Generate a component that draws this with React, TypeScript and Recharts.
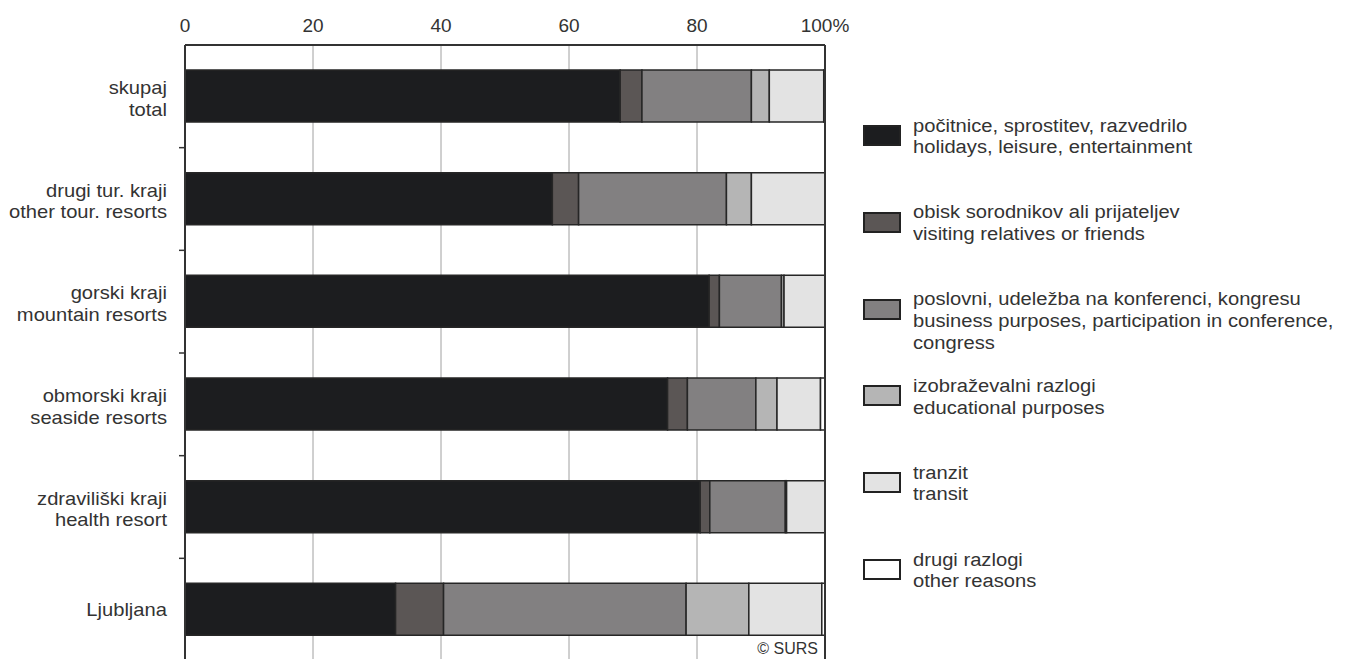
import React from "react";
import { Bar, BarChart, CartesianGrid, Legend, ReferenceLine, XAxis, YAxis } from "recharts";

// categories (top to bottom)
const categoryKeys = ["skupaj", "drugi", "gorski", "obmorski", "zdravilisce", "ljubljana"];
const labelsSl = ["skupaj", "drugi tur. kraji", "gorski kraji", "obmorski kraji", "zdraviliški kraji", "Ljubljana"];
const labelsEn = ["total", "other tour. resorts", "mountain resorts", "seaside resorts", "health resort", ""];

// shares in %
const holidays = [68.0, 57.4, 81.9, 75.4, 80.5, 32.9];
const visiting = [3.4, 4.1, 1.6, 3.1, 1.5, 7.5];
const business = [17.1, 23.1, 9.7, 10.7, 11.8, 37.9];
const educational = [2.8, 3.9, 0.4, 3.3, 0.2, 9.8];
const transit = [8.5, 11.5, 6.4, 6.8, 6.0, 11.4];
const other = [0.2, 0, 0, 0.7, 0, 0.5];

const xTicks = [0, 20, 40, 60, 80, 100];

const seriesKeys = ["holidays", "visiting", "business", "educational", "transit", "other"];
const seriesColors = ["#1c1d1f", "#5b5655", "#828081", "#b5b5b5", "#e3e3e3", "#ffffff"];
const seriesLabels = [
  ["počitnice, sprostitev, razvedrilo", "holidays, leisure, entertainment"],
  ["obisk sorodnikov ali prijateljev", "visiting relatives or friends"],
  ["poslovni, udeležba na konferenci, kongresu", "business purposes, participation in conference,", "congress"],
  ["izobraževalni razlogi", "educational purposes"],
  ["tranzit", "transit"],
  ["drugi razlogi", "other reasons"],
];

const data = categoryKeys.map((key, i) => ({
  key,
  holidays: holidays[i],
  visiting: visiting[i],
  business: business[i],
  educational: educational[i],
  transit: transit[i],
  other: other[i],
}));

const FONT = '"Liberation Sans", Arial, Helvetica, sans-serif';
const TEXT = "#333";
const STRETCH = 1.12;

function CategoryTick(props: any) {
  const { x, y, payload, index } = props;
  const i = categoryKeys.indexOf(payload.value);
  const en = labelsEn[i];
  const half = payload.offset;
  return (
    <g>
      <text
        transform={`translate(${x},${y}) scale(${STRETCH},1)`}
        textAnchor="end"
        fontSize={18}
        fill={TEXT}
        fontFamily={FONT}
      >
        {en ? (
          <>
            <tspan x={0} y={-2.5}>{labelsSl[i]}</tspan>
            <tspan x={0} y={19.2}>{en}</tspan>
          </>
        ) : (
          <tspan x={0} y={6.5}>{labelsSl[i]}</tspan>
        )}
      </text>
      {half && index < categoryKeys.length - 1 ? (
        <line x1={x + 12} x2={x + 18} y1={y + half} y2={y + half} stroke="#333" strokeWidth={1.5} />
      ) : null}
    </g>
  );
}

function LegendBox() {
  return (
    <div style={{ fontFamily: FONT, color: TEXT }}>
      {seriesKeys.map((k, i) => (
        <div key={k} style={{ display: "flex", height: 86.8 }}>
          <div
            style={{
              width: 38,
              height: 21,
              marginTop: 9.4,
              boxSizing: "border-box",
              border: "2px solid #222",
              background: seriesColors[i],
              flex: "none",
            }}
          />
          <div
            style={{
              marginLeft: 12,
              fontSize: 18,
              lineHeight: "21.7px",
              whiteSpace: "nowrap",
              transform: `scaleX(${STRETCH})`,
              transformOrigin: "left top",
            }}
          >
            {seriesLabels[i].map((line) => (
              <div key={line}>{line}</div>
            ))}
          </div>
        </div>
      ))}
    </div>
  );
}

export default function App() {
  return (
    <div style={{ position: "relative", width: 1330, height: 660, fontFamily: FONT }}>
      <BarChart
        width={1330}
        height={660}
        data={data}
        layout="vertical"
        margin={{ top: 7, right: 513, bottom: 7, left: 0 }}
        barSize={52}
      >
        <CartesianGrid horizontal={false} stroke="#a0a0a0" strokeWidth={1} />
        <XAxis
          type="number"
          orientation="top"
          domain={[0, 100]}
          ticks={xTicks}
          height={30}
          tickSize={0}
          tickMargin={13}
          axisLine={{ stroke: "#333", strokeWidth: 2 }}
          tickLine={false}
          tick={{ fontSize: 19, fill: TEXT, fontFamily: FONT }}
          tickFormatter={(v: number) => (v === 100 ? "100%" : String(v))}
        />
        <YAxis
          type="category"
          dataKey="key"
          width={177}
          tickSize={0}
          tickMargin={18}
          axisLine={{ stroke: "#333", strokeWidth: 2 }}
          tickLine={false}
          tick={<CategoryTick />}
          interval={0}
        />
        {seriesKeys.map((k, i) => (
          <Bar
            key={k}
            dataKey={k}
            stackId="a"
            fill={seriesColors[i]}
            stroke="#262626"
            strokeWidth={1.5}
            isAnimationActive={false}
          />
        ))}
        <ReferenceLine x={100} stroke="#333" strokeWidth={2} />
        <Legend
          layout="vertical"
          align="center"
          verticalAlign="middle"
          wrapperStyle={{ left: 855, top: 107.6, width: 470 }}
          content={() => <LegendBox />}
        />
      </BarChart>
      <div
        style={{
          position: "absolute",
          left: 740,
          width: 70,
          top: 633,
          textAlign: "right",
          fontSize: 16,
          lineHeight: "16px",
          color: TEXT,
        }}
      >
        © SURS
      </div>
    </div>
  );
}
